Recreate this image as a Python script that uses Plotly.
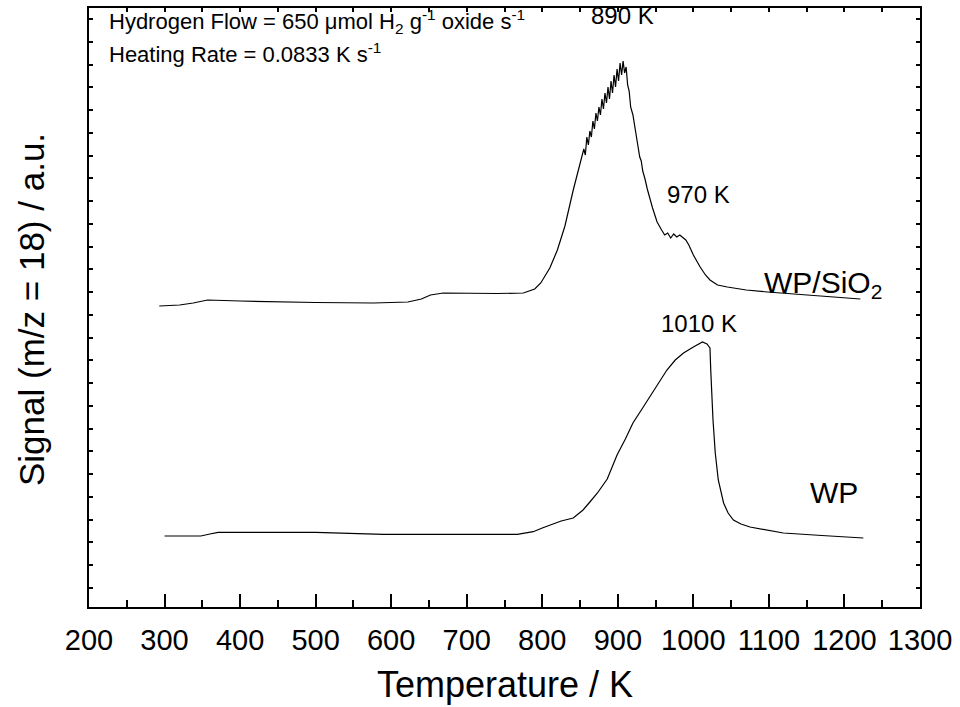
import plotly.graph_objects as go

# ---- data ----
temp_sio2 = [293, 320, 338, 357, 400, 445, 500, 577, 622, 640, 652, 669, 700, 740, 775,
             790, 798, 810, 820, 830, 841, 850, 855, 857, 859, 861, 863, 865, 867, 869,
             871, 873, 875, 877, 879, 881, 883, 885, 887, 889, 891, 893, 895, 897, 899,
             901, 903, 905, 907, 909, 911, 913, 915, 917, 920, 923, 925, 927, 929, 931,
             933, 936, 939, 946, 952, 958, 962, 966, 970, 974, 978, 982, 986, 990, 994,
             1000, 1009, 1016, 1022, 1032, 1045, 1070, 1098, 1150, 1221]
sig_sio2 = [301, 302, 304, 307, 306, 305, 304.5, 304, 305, 308, 312, 314, 313.5, 313.5, 314,
            318, 324, 339, 357, 381, 417, 444, 458, 452, 470, 462, 476, 470, 486, 478,
            494, 486, 500, 492, 508, 498, 514, 504, 520, 508, 526, 514, 532, 520, 538,
            526, 544, 532, 546, 534, 540, 522, 516, 500, 492, 478, 468, 462, 450, 446,
            436, 428, 418, 399, 385, 377, 372, 374, 369, 373, 370, 372, 369, 367, 362,
            352, 340, 332, 327, 322, 320, 317, 315, 312, 308]

temp_wp = [300, 348, 360, 371, 500, 590, 767, 788, 800, 811, 825, 841, 848, 854, 863, 873,
           886, 899, 910, 920, 932, 943, 955, 965, 976, 987, 1000, 1008, 1012, 1018, 1022,
           1023, 1026, 1029, 1033, 1040, 1046, 1053, 1063, 1075, 1095, 1119, 1170, 1225]
sig_wp = [71, 71, 73, 74.7, 74.7, 72.7, 72.7, 75.3, 79, 82, 86, 89, 93, 97, 105, 114,
          128, 152, 168, 184, 198, 211, 225, 237, 247, 254, 260, 263, 265, 263, 259,
          237, 187, 154, 127, 104, 94, 87, 83, 80, 77, 74, 71.5, 69]

x_ticks = [200, 300, 400, 500, 600, 700, 800, 900, 1000, 1100, 1200, 1300]

FONT = "Liberation Sans, Arial, sans-serif"

# plot area in pixels
L, R, T, B = 89, 920, 8, 607
W, H = 960, 707


def px(xp):
    return (xp - L) / (R - L)


def py(yp):
    return (B - yp) / (B - T)


fig = go.Figure()
fig.add_trace(go.Scatter(x=temp_sio2, y=sig_sio2, mode="lines",
                         line=dict(color="black", width=1.2), showlegend=False))
fig.add_trace(go.Scatter(x=temp_wp, y=sig_wp, mode="lines",
                         line=dict(color="black", width=1.2), showlegend=False))
# invisible trace so the top (mirror) axis is drawn with its own short ticks
fig.add_trace(go.Scatter(x=[x_ticks[0], x_ticks[-1]], y=[0, 0], xaxis="x2", mode="lines",
                         line=dict(color="rgba(0,0,0,0)"), showlegend=False,
                         hoverinfo="skip"))

annotations = [
    dict(text="Hydrogen Flow = 650 \u03bcmol H<sub>2</sub> g<sup>-1</sup> oxide s<sup>-1</sup>",
         x=px(107), y=py(21), xanchor="left", yanchor="middle", size=22),
    dict(text="Heating Rate = 0.0833 K s<sup>-1</sup>",
         x=px(107), y=py(53), xanchor="left", yanchor="middle", size=22),
    dict(text="890 K", x=px(622), y=py(16), xanchor="center", yanchor="middle", size=24),
    dict(text="970 K", x=px(698), y=py(194), xanchor="center", yanchor="middle", size=24),
    dict(text="WP/SiO<sub>2</sub>", x=px(762), y=py(284), xanchor="left", yanchor="middle", size=30),
    dict(text="1010 K", x=px(699), y=py(323), xanchor="center", yanchor="middle", size=24),
    dict(text="WP", x=px(834), y=py(492), xanchor="center", yanchor="middle", size=30),
    dict(text="Temperature / K", x=px(505), y=py(684), xanchor="center", yanchor="middle", size=36),
    dict(text="Signal (m/z = 18) / a.u.", x=px(31), y=py(310), xanchor="center",
         yanchor="middle", size=35, textangle=-90),
]

fig.update_layout(
    width=W, height=H,
    margin=dict(l=L, r=W - R, t=T, b=H - B, pad=0),
    paper_bgcolor="white", plot_bgcolor="white",
    font=dict(family=FONT, color="black"),
    annotations=[dict(text=a["text"], x=a["x"], y=a["y"], xref="paper", yref="paper",
                      xanchor=a["xanchor"], yanchor=a["yanchor"], showarrow=False,
                      textangle=a.get("textangle", 0),
                      font=dict(family=FONT, size=a["size"], color="black"))
                 for a in annotations],
    xaxis=dict(
        range=[200, 1300], tickmode="array", tickvals=x_ticks,
        ticktext=[str(v) for v in x_ticks],
        ticks="inside", ticklen=13, tickwidth=2, tickcolor="black",
        minor=dict(dtick=50, tick0=0, ticks="inside", ticklen=7, tickwidth=2, tickcolor="black"),
        showline=True, linewidth=2, linecolor="black",
        showgrid=False, zeroline=False,
        tickfont=dict(family=FONT, size=29, color="black"), ticklabelstandoff=6,
    ),
    xaxis2=dict(
        overlaying="x", side="top", range=[200, 1300], tick0=200, dtick=50,
        ticks="inside", ticklen=4, tickwidth=1.5, tickcolor="black",
        showticklabels=False, showline=True, linewidth=2, linecolor="black",
        showgrid=False, zeroline=False,
    ),
    yaxis=dict(
        range=[0, 599], tick0=19.25, dtick=22.75,
        ticks="inside", ticklen=4, tickwidth=1.5, tickcolor="black",
        showticklabels=False,
        showline=True, linewidth=2, linecolor="black", mirror="ticks",
        showgrid=False, zeroline=False,
    ),
)

fig.write_html("out.html")
